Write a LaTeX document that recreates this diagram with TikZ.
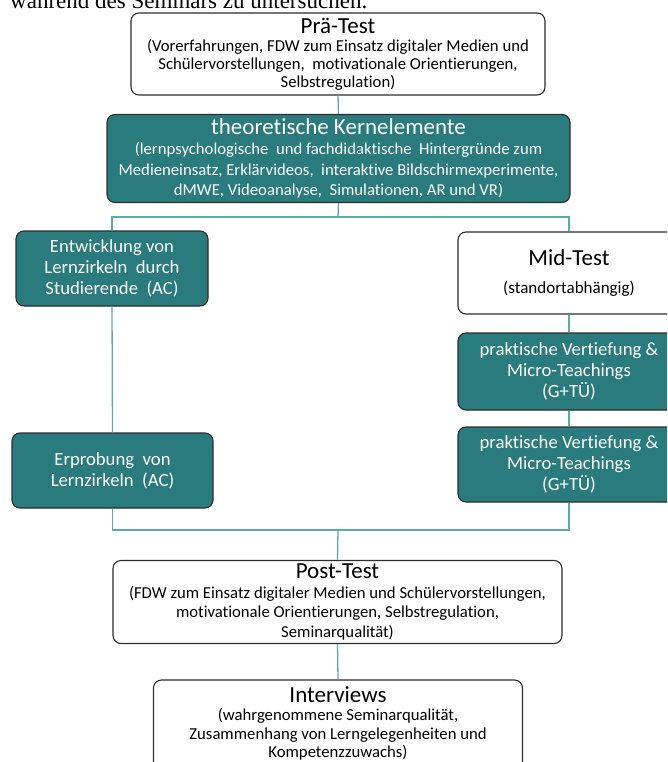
\documentclass[tikz,border=0pt]{standalone}
\usepackage{fontspec}
\setmainfont{Carlito}[Ligatures=NoCommon]
\newfontfamily\capserif{Liberation Serif}
\usepackage{tikz}
\usetikzlibrary{positioning,calc}

\definecolor{kernteal}{RGB}{42,123,125}
\definecolor{linkteal}{RGB}{96,170,170}
\definecolor{rim}{RGB}{45,45,45}

\newcommand{\boxhead}[1]{{\fontsize{23}{25}\selectfont #1}}

\begin{document}
\begin{tikzpicture}[x=1pt, y=-1pt,
  every node/.style={font=\fontsize{16.7}{19.8}\selectfont},
  testbox/.style={draw=rim, line width=1.1pt, rounded corners=8pt,
                  fill=white, align=center, inner sep=2pt},
  kernbox/.style={testbox, fill=kernteal, text=white},
  sidebox/.style={kernbox, font=\fontsize{18.7}{21}\selectfont},
  link/.style   ={draw=linkteal, line width=1.3pt},
  capt/.style   ={font=\capserif\fontsize{23}{26}\selectfont,
                  anchor=base west, inner sep=0pt}]

\clip (0,0) rectangle (667,762);

%% ── Cut caption line above the chart ─────────────────────────────
\node[capt] (capline) at (10,8.5) {während des Seminars zu untersuchen.};

%% ── Row 1: Pre-test ──────────────────────────────────────────────
\node[testbox, minimum width=414pt, minimum height=82pt,
      font=\fontsize{16.7}{18}\selectfont] (pre) at (338,54)
  {\boxhead{Prä-Test}\\(Vorerfahrungen, FDW zum Einsatz digitaler Medien und\\
   Schülervorstellungen,\ \ motivationale Orientierungen,\\Selbstregulation)};

%% ── Row 2: Core elements ─────────────────────────────────────────
\node[kernbox, minimum width=463pt, minimum height=88pt,
      font=\fontsize{16.7}{20.5}\selectfont] (kern) at (338.5,158.5)
  {\boxhead{theoretische Kernelemente}\\
   (lernpsychologische\ \ und fachdidaktische\ \ Hintergründe zum\\
   Medieneinsatz, Erklärvideos,\ \ interaktive Bildschirmexperimente,\\
   dMWE, Videoanalyse,\ \ Simulationen, AR und VR)};

%% ── Left column ──────────────────────────────────────────────────
\node[sidebox, minimum width=192pt, minimum height=75pt] (entw) at (112,268.5)
  {Entwicklung von\\Lernzirkeln\ \ durch\\Studierende\ \ (AC)};
\node[sidebox, minimum width=201pt, minimum height=75pt] (erpr) at (112.5,470.5)
  {Erprobung\ \ von\\Lernzirkeln\ \ (AC)};

%% ── Right column ─────────────────────────────────────────────────
\node[testbox, minimum width=222pt, minimum height=82pt] (mid) at (569,273)
  {\boxhead{Mid-Test}\\[8pt]{\fontsize{17}{19.5}\selectfont(standortabhängig)}};
\node[sidebox, minimum width=222pt, minimum height=77pt] (prakA) at (569,371.5)
  {praktische Vertiefung \&\\Micro-Teachings\\(G+TÜ)};
\node[sidebox, minimum width=222pt, minimum height=75pt] (prakB) at (569,464.5)
  {praktische Vertiefung \&\\Micro-Teachings\\(G+TÜ)};

%% ── Post-test and interviews ─────────────────────────────────────
\node[testbox, minimum width=449pt, minimum height=83pt] (post) at (337.5,602)
  {\boxhead{Post-Test}\\(FDW zum Einsatz digitaler Medien und Schülervorstellungen,\\
   motivationale Orientierungen, Selbstregulation,\\Seminarqualität)};
\node[testbox, minimum width=369pt, minimum height=94pt,
      font=\fontsize{16.7}{18.2}\selectfont] (intv) at (338,727)
  {\boxhead{Interviews}\\(wahrgenommene Seminarqualität,\\
   Zusammenhang von Lerngelegenheiten und\\Kompetenzzuwachs)\rule[-10pt]{0pt}{10pt}};

%% ── Connectors ───────────────────────────────────────────────────
\coordinate (split) at (338,217);
\coordinate (merge) at (338,530);
\draw[link] (pre.south) -- (kern.north);
\draw[link] (kern.south) -- (split);
\draw[link] (entw.north) |- (split) -| (mid.north);
\draw[link] (entw.south) -- (erpr.north);
\draw[link] (mid.south) -- (prakA.north);
\draw[link] (prakA.south) -- (prakB.north);
\draw[link] (erpr.south) |- (merge) -| (prakB.south);
\draw[link] (merge) -- (post.north);
\draw[link] (post.south) -- (intv.north);
\end{tikzpicture}
\end{document}
